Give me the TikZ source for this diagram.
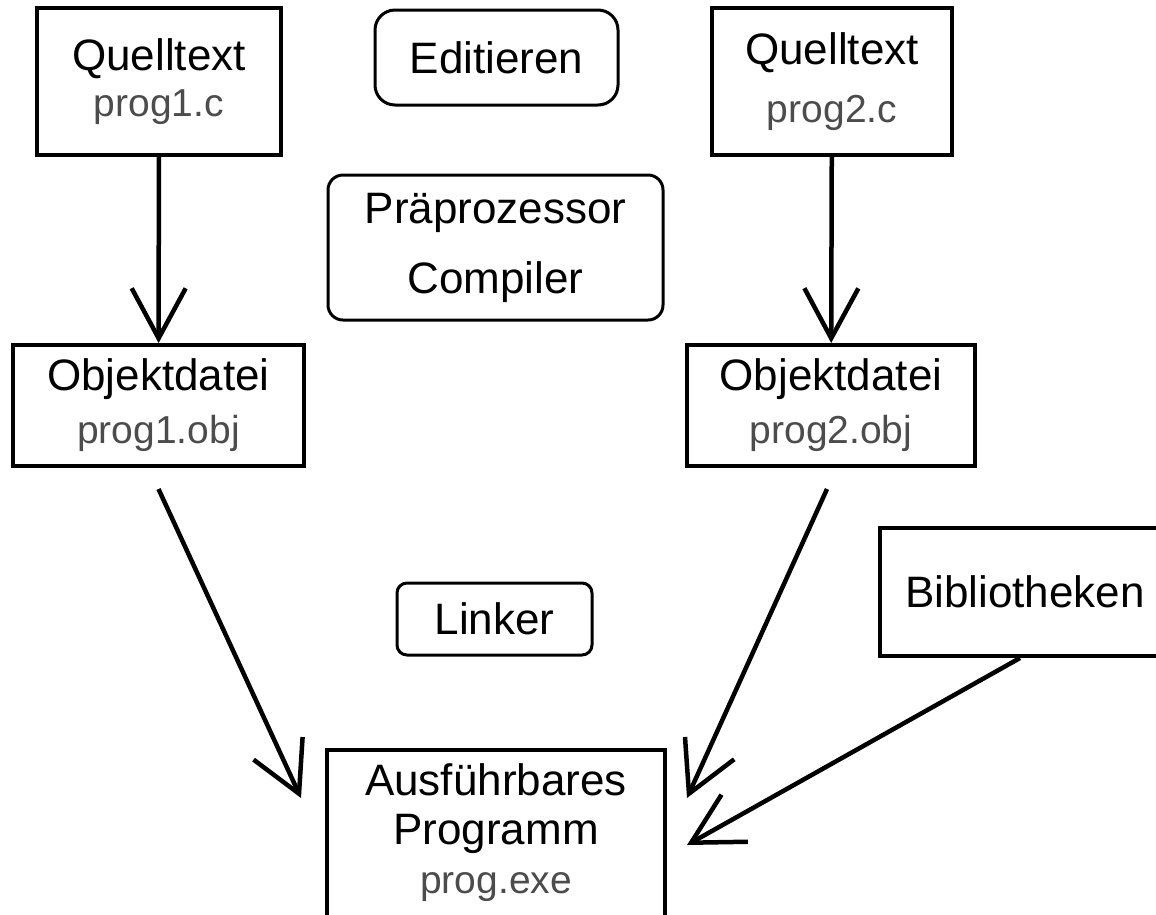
\documentclass[tikz,border=0pt]{standalone}
\usepackage{fontspec}
\setmainfont{Liberation Sans}
\usetikzlibrary{arrows.meta}
\newcommand{\datei}[1]{{\fontsize{39}{48}\selectfont\color{black!70}#1}}
\begin{document}
\begin{tikzpicture}[x=1pt,y=-1pt,
	every node/.style={align=center,font=\fontsize{44}{48}\selectfont},
	kasten/.style={draw,line width=4pt,inner sep=0pt},
	taetigkeit/.style={draw,line width=3pt,rounded corners=#1,inner sep=0pt},
	pfeil/.style={line width=4.5pt,-{Straight Barb[length=50pt,width=54pt]}}]
\useasboundingbox (0,0) rectangle (1156,914);
\node[kasten,minimum width=244pt,minimum height=147pt] (q1) at (159,81.5) {Quelltext\\[-2pt] \datei{prog1.c}};
\node[kasten,minimum width=240pt,minimum height=147pt] (q2) at (832,81.5) {Quelltext\\[10pt] \datei{prog2.c}};
\node[taetigkeit=20pt,minimum width=243pt,minimum height=95pt] (edit) at (496.5,57.5) {Editieren};
\node[taetigkeit=15pt,minimum width=335pt,minimum height=145pt] (comp) at (495.5,247.5) {Präprozessor\\[22pt]Compiler};
\node[kasten,minimum width=291pt,minimum height=121pt] (o1) at (158.5,405.5) {Objektdatei\\[5pt] \datei{prog1.obj}};
\node[kasten,minimum width=288pt,minimum height=121pt] (o2) at (831,405.5) {Objektdatei\\[5pt] \datei{prog2.obj}};
\node[taetigkeit=10pt,minimum width=195pt,minimum height=72pt] (link) at (494.5,619) {Linker};
\node[kasten,minimum width=290pt,minimum height=128pt] (bib) at (1025,592) {Bibliotheken};
\node[kasten,minimum width=338pt,minimum height=185pt,text depth=28pt] (exe) at (496,842.5) {Ausführbares\\[1pt]Programm\\[1pt] \datei{prog.exe}};
\coordinate (e1) at ([shift={(-24,50)}]exe.north west);
\coordinate (e2) at ([shift={(20,50)}]exe.north east);
\coordinate (e3) at ([shift={(20,97)}]exe.north east);
\draw[pfeil] (q1) -- (o1);
\draw[pfeil] (q2) -- (o2);
\draw[pfeil] ([yshift=-21pt]o1.south) -- (e1);
\draw[pfeil] ([shift={(-4,21)}]o2.south) -- (e2);
\draw[pfeil] ([xshift=-5pt]bib.south) -- (e3);
\end{tikzpicture}
\end{document}
